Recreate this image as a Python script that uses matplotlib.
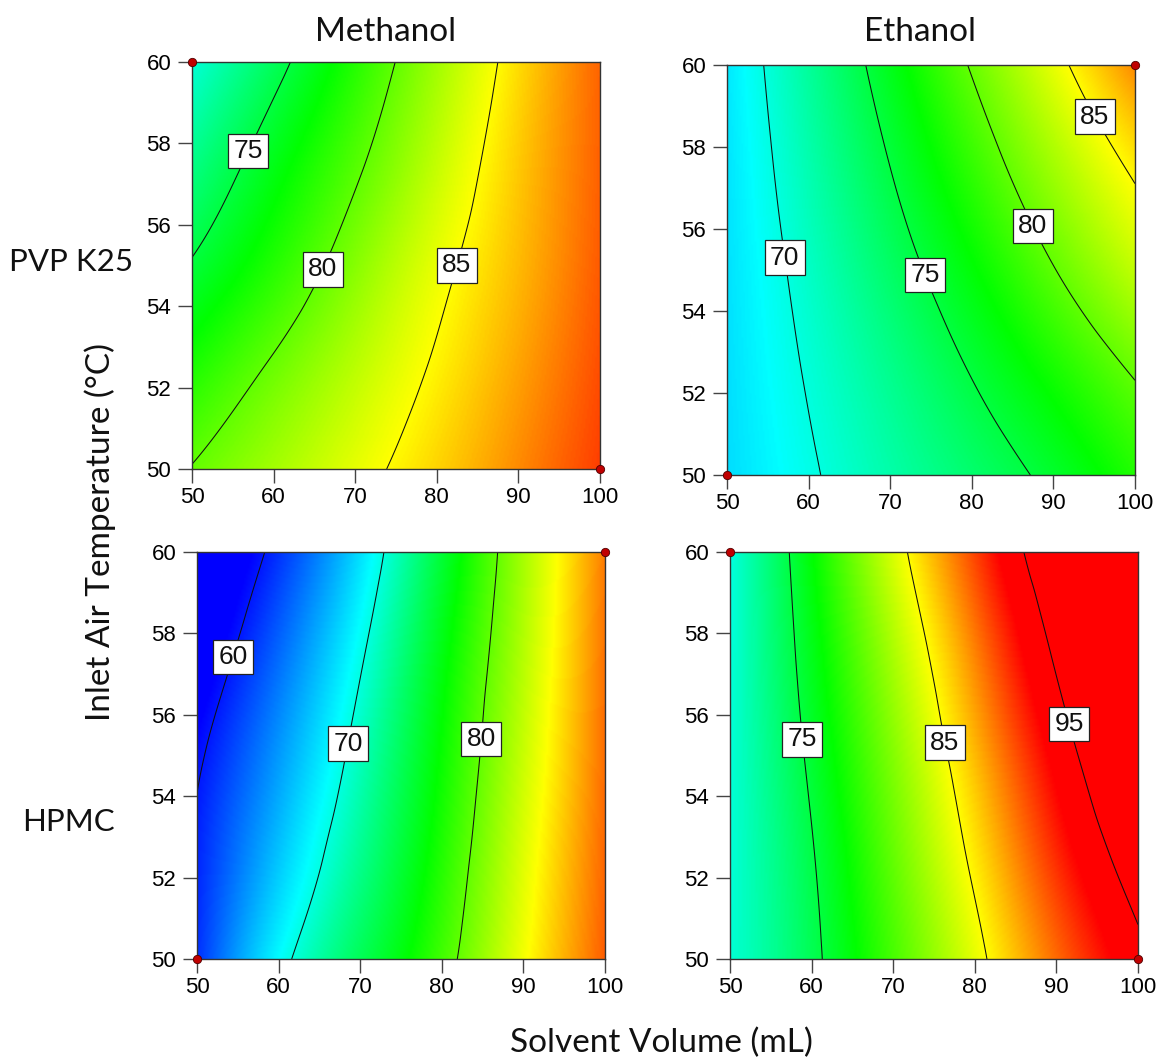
import numpy as np
import matplotlib
matplotlib.use("Agg")
import matplotlib.pyplot as plt
import matplotlib.tri as mtri
from matplotlib.colors import LinearSegmentedColormap, Normalize

# ---------------- data ----------------
solvent_volume = [50, 60, 70, 80, 90, 100]          # mL  (x grid)
inlet_temp = [50, 52.5, 55, 57.5, 60]               # degC (y grid)

# response values, rows = inlet_temp, cols = solvent_volume
methanol_pvp = [
    [80.1, 82.1, 84.2, 86.3, 88.6, 91.0],
    [77.8, 80.3, 82.8, 85.3, 87.8, 90.5],
    [75.2, 78.1, 81.2, 84.3, 87.1, 90.1],
    [72.8, 76.3, 79.6, 83.1, 86.6, 89.9],
    [70.3, 74.2, 78.1, 82.0, 86.0, 89.8],
]
ethanol_pvp = [
    [67.7, 69.7, 71.7, 73.6, 75.6, 78.0],
    [67.8, 70.2, 72.6, 75.1, 77.6, 80.2],
    [67.9, 70.8, 73.8, 76.8, 79.9, 83.0],
    [68.0, 71.5, 75.0, 78.5, 82.0, 85.4],
    [68.2, 72.2, 76.2, 80.2, 84.2, 88.6],
]
methanol_hpmc = [
    [61.0, 69.0, 74.3, 79.0, 84.6, 90.0],
    [60.5, 66.8, 72.5, 78.0, 83.9, 89.7],
    [59.5, 65.1, 71.1, 77.2, 83.2, 89.5],
    [57.4, 63.2, 69.6, 76.4, 82.6, 89.3],
    [55.5, 61.0, 67.8, 75.3, 82.1, 89.0],
]
ethanol_hpmc = [
    [70.4, 74.4, 79.2, 84.2, 89.6, 94.3],
    [70.3, 74.8, 80.1, 85.6, 91.6, 96.5],
    [70.3, 75.5, 81.1, 87.1, 93.5, 98.5],
    [70.2, 76.2, 82.3, 88.8, 95.4, 100.0],
    [70.0, 76.9, 83.8, 90.8, 97.4, 101.0],
]

contour_levels = {
    "methanol_pvp": [75, 80, 85],
    "ethanol_pvp": [70, 75, 80, 85],
    "methanol_hpmc": [60, 70, 80],
    "ethanol_hpmc": [75, 85, 95],
}

# design points (corners) shown as red dots
design_x = {
    "methanol_pvp": [50, 100], "ethanol_pvp": [100, 50],
    "methanol_hpmc": [100, 50], "ethanol_hpmc": [50, 100],
}
design_y = {
    "methanol_pvp": [60, 50], "ethanol_pvp": [60, 50],
    "methanol_hpmc": [60, 50], "ethanol_hpmc": [60, 50],
}

col_titles = ["Methanol", "Ethanol"]
row_titles = ["PVP K25", "HPMC"]
x_ticks = [50, 60, 70, 80, 90, 100]
y_ticks = [50, 52, 54, 56, 58, 60]

# ---------------- layout ----------------
W, H = 1159, 1059
fig = plt.figure(figsize=(W / 100, H / 100), dpi=100)

def px_axes(l, t, r, b):
    return fig.add_axes([l / W, 1 - b / H, (r - l) / W, (b - t) / H])

panels = [
    ("methanol_pvp", methanol_pvp, (192, 62, 600, 469),
     [(57, 57.8), (65, 55.0), (82.5, 55.0)]),
    ("ethanol_pvp", ethanol_pvp, (727, 65, 1135, 475),
     [(57, 55.3), (74.5, 54.9), (88.2, 56.15), (95.6, 58.8)]),
    ("methanol_hpmc", methanol_hpmc, (197, 552, 605, 959),
     [(54.8, 57.4), (68.3, 55.3), (85.2, 55.4)]),
    ("ethanol_hpmc", ethanol_hpmc, (730, 552, 1138, 959),
     [(59.0, 55.4), (75.9, 55.3), (92.0, 55.8)]),
]

# Design-Expert style colour scale
vnodes = [59, 69, 77, 85, 93]
vmin, vmax = vnodes[0], vnodes[-1]
cmap = LinearSegmentedColormap.from_list(
    "de", [((v - vmin) / (vmax - vmin), c) for v, c in
           zip(vnodes, ["#0000ff", "#00ffff", "#00ff00", "#ffff00", "#ff0000"])])
norm = Normalize(vmin=vmin, vmax=vmax)

tick_font = "Liberation Sans"
label_font = "Lato"

X, Y = np.meshgrid(solvent_volume, inlet_temp)
tri = mtri.Triangulation(X.ravel(), Y.ravel())
xf = np.linspace(50, 100, 251)
yf = np.linspace(50, 60, 251)
XF, YF = np.meshgrid(xf, yf)

for name, z, box, lab_pos in panels:
    ax = px_axes(*box)
    zz = np.asarray(z, float).ravel()
    interp = mtri.CubicTriInterpolator(tri, zz, kind="min_E")
    ZF = interp(XF, YF)
    ax.imshow(ZF, origin="lower", extent=(50, 100, 50, 60), aspect="auto",
              cmap=cmap, norm=norm, interpolation="bilinear")
    cs = ax.contour(XF, YF, ZF, levels=contour_levels[name], colors="#111111",
                    linewidths=0.75)
    labels = ax.clabel(cs, manual=lab_pos, inline=False, fmt="%d", fontsize=19)
    for t in labels:
        t.set_rotation(0)
        t.set_fontfamily(tick_font)
        t.set_zorder(6)
        t.set_bbox(dict(facecolor="white", edgecolor="#222222", linewidth=0.9,
                        boxstyle="square,pad=0.2"))
    ax.scatter(design_x[name], design_y[name], s=36, color="#c00000",
               edgecolors="#500000", linewidths=0.6, zorder=7, clip_on=False)
    ax.set_xlim(50, 100)
    ax.set_ylim(50, 60)
    ax.set_xticks(x_ticks)
    ax.set_yticks(y_ticks)
    ax.tick_params(direction="out", length=10, width=1, color="#444444",
                   labelsize=16)
    ax.tick_params(axis="x", pad=3)
    ax.tick_params(axis="y", pad=5)
    for lbl in ax.get_xticklabels() + ax.get_yticklabels():
        lbl.set_fontfamily(tick_font)
    for s in ax.spines.values():
        s.set_linewidth(1.0)
        s.set_color("#333333")

def ftext(x, y, s, size=24, **kw):
    fig.text(x / W, 1 - y / H, s, ha="center", va="center",
             family=label_font, fontsize=size, color="#111111", **kw)

ftext(386, 32, col_titles[0])
ftext(920, 32, col_titles[1])
ftext(71, 262, row_titles[0], size=22.5)
ftext(68, 822, row_titles[1], size=22.5)
ftext(100, 532, "Inlet Air Temperature (°C)", rotation=90)
ftext(661, 1043, "Solvent Volume (mL)")

fig.savefig("out.png", dpi=100)
